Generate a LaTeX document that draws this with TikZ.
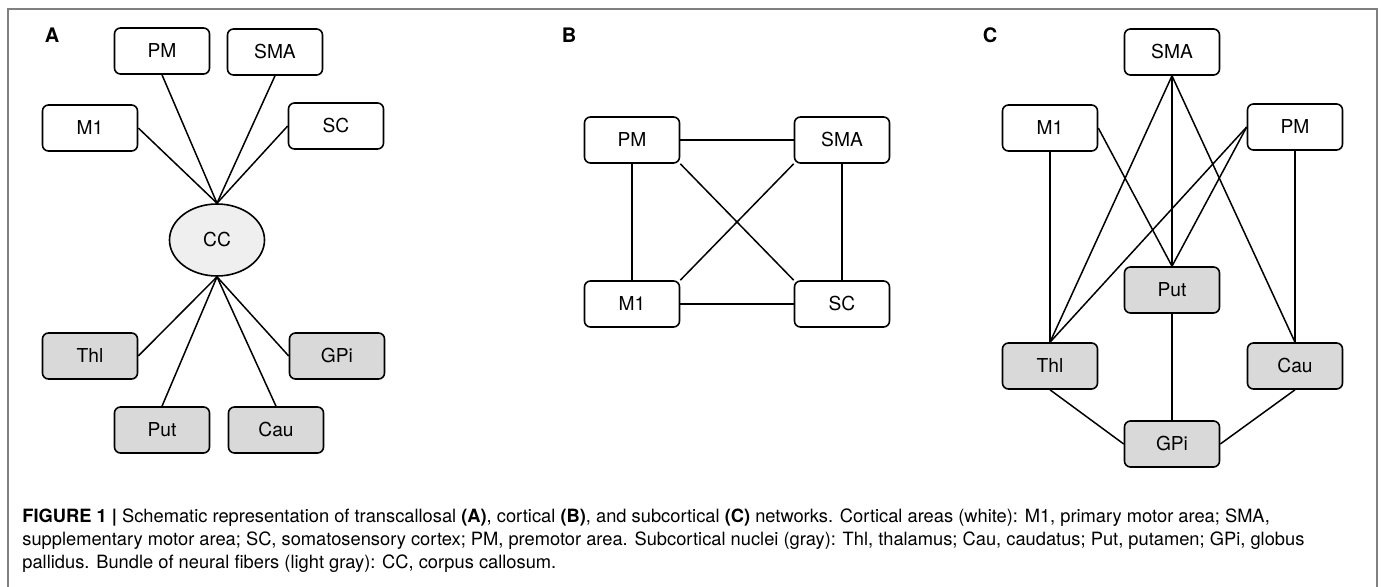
\documentclass[tikz,border=0pt]{standalone}
\usepackage{fontspec}
\setmainfont{TeX Gyre Heros}
\usetikzlibrary{shapes.geometric}
\definecolor{nucgray}{RGB}{217,217,217}
\definecolor{ccgray}{RGB}{239,239,239}
\definecolor{framegray}{RGB}{128,128,128}
\begin{document}
\begin{tikzpicture}[x=0.5pt, y=-0.5pt,
  cortex/.style={draw, line width=0.8pt, rounded corners=3pt, fill=white, minimum width=47.5pt, minimum height=23pt, inner sep=0pt, font=\fontsize{9.6}{11}\selectfont},
  nucleus/.style={cortex, fill=nucgray},
  bundle/.style={draw, line width=0.8pt, ellipse, fill=ccgray, minimum width=47.5pt, minimum height=36pt, inner sep=0pt, font=\fontsize{9.6}{11}\selectfont},
  link/.style={line width=0.75pt},
  panel/.style={font=\fontsize{10}{12}\selectfont\bfseries}]
\useasboundingbox (0,0) rectangle (1383,587);
\draw[framegray, line width=1pt] (8,587) |- (1377,9) -- (1377,587);

\node[panel] at (52,35) (la) {A};
\node[cortex] at (162,51) (aPM) {PM};
\node[cortex] at (275,52) (aSMA) {SMA};
\node[cortex] at (90,128) (aM1) {M1};
\node[cortex] at (336,126) (aSC) {SC};
\node[bundle] at (217,240) (aCC) {CC};
\node[nucleus] at (90,356) (aThl) {Thl};
\node[nucleus] at (337,356) (aGPi) {GPi};
\node[nucleus] at (162,430) (aPut) {Put};
\node[nucleus] at (276,430) (aCau) {Cau};

\draw[link] (aM1.east) -- (aCC.north);
\draw[link] (aPM.south) -- (aCC.north);
\draw[link] (aSMA.south) -- (aCC.north);
\draw[link] (aSC.west) -- (aCC.north);
\draw[link] (aThl.east) -- (aCC.south);
\draw[link] (aPut.north) -- (aCC.south);
\draw[link] (aCau.north) -- (aCC.south);
\draw[link] (aGPi.west) -- (aCC.south);

\node[panel] at (569,35) (lb) {B};
\node[cortex] at (632,140) (bPM) {PM};
\node[cortex] at (842,140) (bSMA) {SMA};
\node[cortex] at (632,304) (bM1) {M1};
\node[cortex] at (842,304) (bSC) {SC};

\draw[link] (bPM) -- (bSMA);
\draw[link] (bPM) -- (bM1);
\draw[link] (bSMA) -- (bSC);
\draw[link] (bM1) -- (bSC);
\draw[link] (bPM.south east) -- (bSC.north west);
\draw[link] (bSMA.south west) -- (bM1.north east);

\node[panel] at (990,35) (lc) {C};
\node[cortex] at (1172,52) (cSMA) {SMA};
\node[cortex] at (1050,128) (cM1) {M1};
\node[cortex] at (1295,127) (cPM) {PM};
\node[nucleus] at (1172,290) (cPut) {Put};
\node[nucleus] at (1050,366) (cThl) {Thl};
\node[nucleus] at (1295,366) (cCau) {Cau};
\node[nucleus] at (1172,444) (cGPi) {GPi};

\draw[link] (cM1) -- (cThl);
\draw[link] (cM1.east) -- (cPut.north);
\draw[link] (cSMA.south) -- (cThl.north);
\draw[link] (cSMA) -- (cPut);
\draw[link] (cSMA.south) -- (cCau.north);
\draw[link] (cPM.west) -- (cThl.north);
\draw[link] (cPM.west) -- (cPut.north);
\draw[link] (cPM) -- (cCau);
\draw[link] (cPut) -- (cGPi);
\draw[link] (cThl.south) -- (cGPi.west);
\draw[link] (cCau.south) -- (cGPi.east);

\node[anchor=north west, align=left, inner sep=0pt, font=\fontsize{9.15}{11.5}\selectfont] at (22,508) (caption)
{\textbf{FIGURE 1 |} Schematic representation of transcallosal \textbf{(A)}, cortical \textbf{(B)}, and subcortical \textbf{(C)} networks. Cortical areas (white): M1, primary motor area; SMA,\\
supplementary motor area; SC, somatosensory cortex; PM, premotor area. Subcortical nuclei (gray): Thl, thalamus; Cau, caudatus; Put, putamen; GPi, globus\\
pallidus. Bundle of neural fibers (light gray): CC, corpus callosum.};
\end{tikzpicture}
\end{document}
